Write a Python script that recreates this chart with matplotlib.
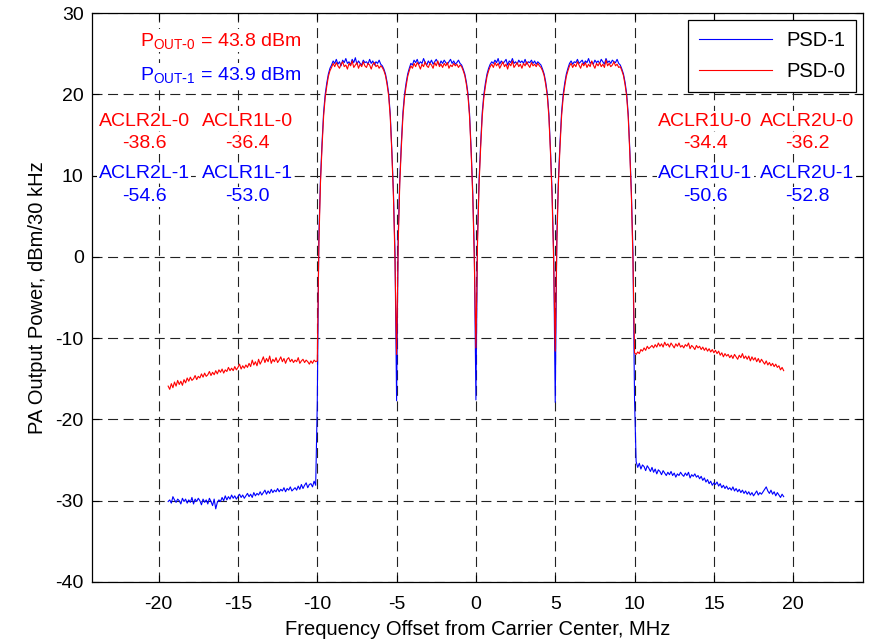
import numpy as np
import matplotlib
matplotlib.use("Agg")
import matplotlib.pyplot as plt

plt.rcParams['font.family'] = ['Liberation Sans', 'DejaVu Sans']
plt.rcParams['mathtext.default'] = 'regular'
plt.rcParams['axes.unicode_minus'] = False

# ---------------- data ----------------
x_ticks = [-20, -15, -10, -5, 0, 5, 10, 15, 20]
y_ticks = [-40, -30, -20, -10, 0, 10, 20, 30]

notch_freq = [-10.0, -5.0, 0.0, 5.0, 10.0]
carrier_centers = [-7.5, -2.5, 2.5, 7.5]

# lower adjacent region, -19.4 .. -10.1 MHz
red_aclr_low = [
    -15.9, -16.3, -15.6, -16.1, -15.4, -15.9, -15.2, -15.7, -15.3, -15.8,
    -15.1, -15.5, -14.9, -15.3, -14.8, -15.2, -15.0, -14.6, -15.1, -14.7,
    -14.9, -14.4, -14.8, -14.3, -14.7, -14.5, -14.1, -14.6, -14.2, -14.5,
    -14.0, -14.4, -13.9, -14.2, -13.8, -14.3, -13.9, -14.1, -13.6, -14.0,
    -13.7, -14.0, -13.5, -13.9, -13.6, -13.2, -13.8, -13.4, -13.7, -13.3,
    -13.6, -13.1, -13.5, -12.7, -13.3, -12.9, -13.4, -12.6, -13.2, -12.8,
    -12.3, -13.0, -12.5, -12.9, -12.2, -13.1, -12.6, -12.9, -12.4, -13.0,
    -12.7, -12.3, -12.9, -12.5, -13.1, -12.6, -12.4, -12.9, -12.6, -13.0,
    -12.7, -12.9, -12.4, -13.1, -12.8, -12.6, -13.0, -12.7, -12.9, -13.2,
    -12.8, -13.1, -12.7, -12.9]
blue_aclr_low = [
    -30.1, -29.9, -30.3, -29.5, -29.9, -30.2, -29.8, -30.0, -30.4, -29.7,
    -30.1, -29.8, -30.3, -29.9, -30.2, -29.6, -30.4, -29.8, -30.1, -29.7,
    -30.0, -30.5, -29.8, -30.2, -29.9, -30.4, -29.7, -30.1, -30.6, -29.8,
    -31.0, -30.2, -29.9, -30.1, -29.6, -30.0, -29.4, -29.9, -29.5, -29.8,
    -29.3, -29.7, -29.4, -29.8, -29.5, -29.2, -29.6, -29.3, -29.7, -29.4,
    -29.1, -29.5, -29.2, -29.6, -29.0, -29.4, -29.1, -29.3, -28.9, -29.3,
    -29.0, -28.7, -29.2, -28.8, -29.1, -28.6, -29.0, -28.7, -28.9, -28.5,
    -28.9, -28.6, -28.8, -28.4, -28.9, -28.5, -28.7, -28.3, -28.8, -28.6,
    -28.4, -28.7, -28.2, -28.6, -28.0, -28.5, -28.1, -27.8, -28.4, -28.0,
    -27.9, -28.3, -27.6, -28.1]

# upper adjacent region, 10.1 .. 19.4 MHz
red_aclr_up = [
    -12.0, -11.7, -11.9, -11.4, -11.6, -11.2, -11.5, -11.0, -11.3, -11.1,
    -10.9, -11.2, -10.8, -11.1, -10.6, -11.0, -10.7, -11.1, -10.5, -10.9,
    -10.7, -11.1, -10.6, -10.9, -11.2, -10.7, -11.0, -10.6, -11.1, -10.9,
    -11.2, -10.8, -11.0, -10.6, -11.3, -10.9, -11.1, -11.4, -10.9, -11.2,
    -11.0, -11.4, -11.1, -11.5, -11.2, -11.6, -11.3, -11.7, -11.4, -11.8,
    -11.5, -11.9, -11.6, -12.1, -11.8, -12.3, -11.9, -12.2, -12.0, -12.4,
    -12.1, -12.5, -12.0, -12.3, -12.6, -12.1, -12.4, -11.9, -12.5, -12.2,
    -12.6, -12.2, -12.8, -12.3, -12.7, -12.4, -12.9, -12.5, -13.0, -12.6,
    -12.9, -13.2, -12.8, -13.3, -13.0, -13.4, -13.1, -13.5, -13.2, -13.6,
    -13.4, -13.9, -13.6, -14.0]
blue_aclr_up = [
    -25.2, -25.9, -25.4, -26.1, -25.6, -25.8, -26.3, -25.7, -26.0, -26.4,
    -25.9, -26.5, -26.1, -26.7, -26.2, -26.4, -26.8, -26.3, -26.6, -26.9,
    -26.5, -26.8, -26.4, -26.9, -26.6, -27.1, -26.7, -26.9, -26.5, -26.8,
    -27.0, -26.6, -26.9, -26.5, -27.2, -26.8, -27.0, -26.7, -27.1, -26.9,
    -27.3, -27.0, -27.5, -27.2, -27.7, -27.4, -27.9, -27.6, -28.1, -27.8,
    -28.0, -27.7, -28.2, -27.9, -28.4, -28.1, -28.5, -28.2, -28.6, -28.4,
    -28.7, -28.3, -28.8, -28.5, -28.9, -28.6, -29.0, -28.7, -29.1, -28.8,
    -29.2, -28.9, -29.3, -29.0, -29.4, -29.1, -28.8, -29.3, -29.0, -29.2,
    -28.9, -28.6, -28.3, -28.8, -29.1, -28.7, -29.2, -28.9, -29.4, -29.0,
    -29.3, -29.6, -29.2, -29.5]

# values exactly at the carrier boundaries (-10, -5, 0, 5, 10 MHz)
red_notch = [-12.8, -12.0, -11.2, -11.6, -11.8]
blue_notch = [-18.0, -17.7, -17.6, -17.9, -17.7]

# carrier skirts (0.1 MHz steps from boundary inward)
red_rise = [1.5, 9.0, 13.5, 17.3, 19.6, 21.0, 22.2, 22.9]
blue_rise = [2.5, 9.5, 14.0, 17.8, 20.0, 21.4, 22.5, 23.2]
red_fall = [22.9, 22.3, 21.2, 19.8, 17.2, 12.8, 7.5, -0.5]
blue_fall = [23.1, 22.5, 21.5, 20.1, 17.6, 13.2, 8.0, 0.5]

# carrier plateaus
red_top_1 = [23.3, 23.8, 23.4, 23.9, 23.5, 23.2, 23.7, 24.0, 23.4, 23.6, 23.1,
             23.8, 23.5, 24.1, 23.3, 23.6, 23.9, 23.2, 23.7, 23.4, 24.0, 23.5,
             23.3, 23.8, 23.6, 23.1, 23.7, 23.9, 23.4, 23.6, 23.2, 23.5, 23.3]
blue_top_1 = [23.6, 24.1, 23.8, 24.3, 23.7, 24.0, 23.5, 24.2, 23.9, 24.4, 23.8,
              24.0, 23.6, 24.3, 23.9, 24.5, 23.7, 24.1, 23.8, 23.6, 24.2, 23.9,
              24.0, 23.7, 24.3, 23.8, 24.1, 23.6, 24.0, 23.8, 24.2, 23.7, 23.5]
red_top_2 = [23.5, 23.2, 23.8, 23.4, 23.9, 23.6, 23.1, 23.7, 23.4, 24.0, 23.5,
             23.3, 23.8, 23.6, 23.2, 23.9, 23.5, 24.1, 23.4, 23.7, 23.3, 23.8,
             23.5, 23.9, 23.2, 23.6, 23.4, 23.8, 23.5, 23.7, 23.3, 23.6, 23.4]
blue_top_2 = [23.8, 23.6, 24.2, 23.9, 24.3, 23.7, 24.0, 23.8, 24.4, 23.9, 23.6,
              24.1, 23.8, 24.2, 23.7, 24.0, 24.3, 23.9, 23.6, 24.1, 23.8, 24.2,
              23.9, 23.7, 24.0, 24.3, 23.8, 24.1, 23.7, 23.9, 24.2, 23.8, 23.6]
red_top_3 = [23.4, 23.7, 23.3, 23.9, 23.5, 23.8, 23.2, 23.6, 24.0, 23.4, 23.7,
             23.1, 23.8, 23.5, 24.1, 23.3, 23.6, 23.9, 23.4, 23.7, 23.2, 23.8,
             23.5, 24.0, 23.6, 23.3, 23.9, 23.5, 23.7, 23.4, 23.8, 23.5, 23.3]
blue_top_3 = [23.7, 24.0, 23.8, 24.2, 23.9, 24.4, 23.7, 24.1, 23.8, 24.0, 24.3,
              23.6, 24.1, 23.9, 24.4, 23.8, 24.0, 23.7, 24.2, 23.9, 24.1, 23.8,
              24.3, 23.7, 24.0, 23.9, 24.2, 23.8, 24.1, 23.7, 24.0, 23.8, 23.6]
red_top_4 = [23.5, 23.8, 23.3, 23.7, 23.4, 24.0, 23.6, 23.2, 23.8, 23.5, 23.9,
             23.3, 23.7, 23.4, 24.1, 23.6, 23.2, 23.8, 23.5, 23.9, 23.4, 23.7,
             23.3, 24.2, 23.5, 23.8, 23.4, 23.6, 24.0, 23.5, 23.7, 23.3, 23.4]
blue_top_4 = [23.8, 24.1, 23.7, 24.0, 23.9, 24.3, 23.8, 24.0, 24.2, 23.7, 24.1,
              23.9, 24.4, 23.8, 24.0, 23.7, 24.2, 23.9, 24.1, 23.8, 24.3, 24.0,
              23.7, 24.4, 23.9, 24.1, 23.8, 24.2, 24.0, 23.9, 24.3, 23.8, 23.6]

aclr_labels_low = [["ACLR2L-0", "ACLR1L-0"], ["ACLR2L-1", "ACLR1L-1"]]
aclr_values_low = [["-38.6", "-36.4"], ["-54.6", "-53.0"]]
aclr_labels_up = [["ACLR1U-0", "ACLR2U-0"], ["ACLR1U-1", "ACLR2U-1"]]
aclr_values_up = [["-34.4", "-36.2"], ["-50.6", "-52.8"]]
pout_text = [r"P$_{OUT\text{-}0}$ = 43.8 dBm", r"P$_{OUT\text{-}1}$ = 43.9 dBm"]

RED = "#ff0000"
BLUE = "#0000ff"


def build(aclr_low, aclr_up, notch, rise, fall, tops):
    xs, ys = [], []
    xs += list(np.linspace(-19.4, -10.1, len(aclr_low)))
    ys += list(aclr_low)
    for k, c in enumerate(carrier_centers):
        xs.append(notch_freq[k])
        ys.append(notch[k])
        seg = list(rise) + list(tops[k]) + list(fall)
        xs += list(np.linspace(c - 2.4, c + 2.4, len(seg)))
        ys += seg
    xs.append(notch_freq[-1])
    ys.append(notch[-1])
    xs += list(np.linspace(10.1, 19.4, len(aclr_up)))
    ys += list(aclr_up)
    return np.array(xs), np.array(ys)


fx_b, psd1 = build(blue_aclr_low, blue_aclr_up, blue_notch, blue_rise, blue_fall,
                   [blue_top_1, blue_top_2, blue_top_3, blue_top_4])
fx_r, psd0 = build(red_aclr_low, red_aclr_up, red_notch, red_rise, red_fall,
                   [red_top_1, red_top_2, red_top_3, red_top_4])

# ---------------- figure ----------------
fig = plt.figure(figsize=(8.71, 6.39), dpi=100)
ax = fig.add_axes([92 / 871, 1 - 582 / 639, (863 - 92) / 871, (582 - 13) / 639])

ax.plot(fx_b, psd1, color=BLUE, lw=0.8, label="PSD-1")
ax.plot(fx_r, psd0, color=RED, lw=0.8, label="PSD-0")

ax.set_xlim(-24.2, 24.4)
ax.set_ylim(-40, 30)
ax.set_xticks(x_ticks)
ax.set_yticks(y_ticks)
ax.tick_params(direction='in', top=True, right=True, length=5, width=0.8,
               labelsize=14)
ax.tick_params(axis='x', pad=10)
ax.tick_params(axis='y', pad=6)
ax.grid(True, color='#222222', linestyle=(0, (9, 5)), linewidth=0.8)
for s in ax.spines.values():
    s.set_linewidth(0.9)

ax.set_xlabel("Frequency Offset from Carrier Center, MHz", fontsize=14.5, labelpad=5)
ax.set_ylabel("PA Output Power, dBm/30 kHz", fontsize=14.5, labelpad=6)

leg = ax.legend(loc='upper right', fontsize=14.5, fancybox=False, framealpha=1,
                edgecolor='black', handlelength=3.6, borderpad=0.55,
                labelspacing=0.6, borderaxespad=0.35, handletextpad=0.7)
leg.get_frame().set_linewidth(0.9)

box = dict(facecolor='white', edgecolor='none', pad=1.0)

# annotations
ax.text(-16.1, 26.6, pout_text[0], color=RED, fontsize=14, ha='center', va='center', bbox=box)
ax.text(-16.1, 22.4, pout_text[1], color=BLUE, fontsize=14, ha='center', va='center', bbox=box)

low_x = [-20.9, -14.4]
up_x = [14.45, 20.9]
row_y = [[16.7, 13.9], [10.3, 7.4]]
colors = [RED, BLUE]
for r in range(2):
    for j in range(2):
        ax.text(low_x[j], row_y[r][0], aclr_labels_low[r][j], color=colors[r],
                fontsize=14, ha='center', va='center', bbox=box)
        ax.text(low_x[j], row_y[r][1], aclr_values_low[r][j], color=colors[r],
                fontsize=14, ha='center', va='center', bbox=box)
        ax.text(up_x[j], row_y[r][0], aclr_labels_up[r][j], color=colors[r],
                fontsize=14, ha='center', va='center', bbox=box)
        ax.text(up_x[j], row_y[r][1], aclr_values_up[r][j], color=colors[r],
                fontsize=14, ha='center', va='center', bbox=box)

fig.savefig("out.png", dpi=100)
